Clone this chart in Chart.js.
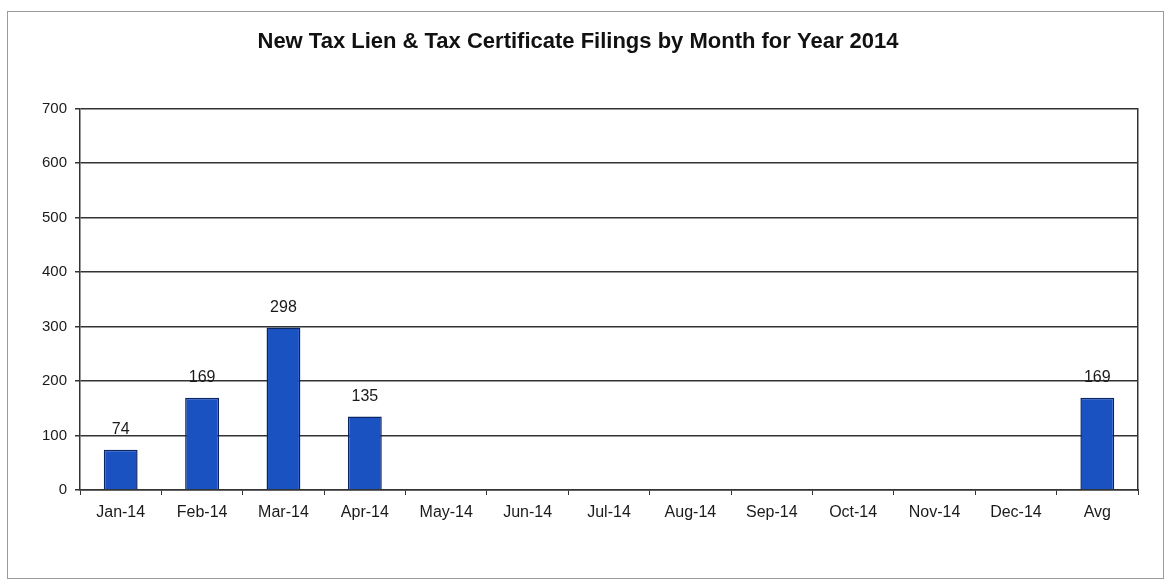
<!DOCTYPE html>
<html>
<head>
<meta charset="utf-8">
<script src="https://cdn.jsdelivr.net/npm/chart.js@4"></script>
<style>
  html, body { margin: 0; padding: 0; background: #fff; }
  #frame {
    position: absolute; left: 7px; top: 11px;
    width: 1155px; height: 566px;
    border: 1px solid #9a9a9a;
  }
  canvas { display: block; }
</style>
</head>
<body>
<div id="frame"><canvas id="chart" width="1155" height="566"></canvas></div>
<script>
// categories / values
const months = ['Jan-14', 'Feb-14', 'Mar-14', 'Apr-14', 'May-14', 'Jun-14', 'Jul-14',
                'Aug-14', 'Sep-14', 'Oct-14', 'Nov-14', 'Dec-14', 'Avg'];
const filings = [74, 169, 298, 135, null, null, null, null, null, null, null, null, 169];
const yTicks = [0, 100, 200, 300, 400, 500, 600, 700];

const FONT = '"Liberation Sans", Arial, sans-serif';

// value labels above each bar
const barLabels = {
  id: 'barLabels',
  afterDatasetsDraw(chart) {
    const ctx = chart.ctx;
    const meta = chart.getDatasetMeta(0);
    ctx.save();
    ctx.font = '16px ' + FONT;
    ctx.fillStyle = '#1a1a1a';
    ctx.textAlign = 'center';
    ctx.textBaseline = 'bottom';
    meta.data.forEach((bar, i) => {
      const v = filings[i];
      if (v == null) return;
      ctx.fillText(String(v), bar.x, bar.y - 12);
    });
    ctx.restore();
  }
};

new Chart(document.getElementById('chart'), {
  type: 'bar',
  data: {
    labels: months,
    datasets: [{
      data: filings,
      backgroundColor: '#1a52c2',
      borderColor: '#0a2466',
      borderWidth: 1.5,
      categoryPercentage: 0.8,
      barPercentage: 0.52
    }]
  },
  options: {
    responsive: false,
    animation: false,
    layout: { padding: { left: 0, right: 15, top: 0, bottom: 0 } },
    plugins: {
      legend: { display: false },
      tooltip: { enabled: false },
      title: {
        display: true,
        text: 'New Tax Lien & Tax Certificate Filings by Month for Year 2014',
        color: '#111',
        font: { family: FONT, size: 22, weight: 'bold' },
        padding: { top: 17, bottom: 53 }
      }
    },
    scales: {
      x: {
        grid: { display: true, drawOnChartArea: false, drawTicks: true, tickLength: 5, color: '#333', lineWidth: 1 },
        border: { display: true, color: '#333', width: 1.5 },
        ticks: { color: '#1a1a1a', font: { family: FONT, size: 16 }, padding: 8, maxRotation: 0, autoSkip: false },
        afterFit(scale) { scale.height = 88; }
      },
      y: {
        min: 0, max: 700,
        afterBuildTicks(scale) { scale.ticks = yTicks.map(v => ({ value: v })); },
        grid: { color: '#333', lineWidth: 1.5, tickLength: 5 },
        border: { display: true, color: '#333', width: 1.5 },
        ticks: { color: '#1a1a1a', font: { family: FONT, size: 15 }, padding: 8 },
        afterFit(scale) { scale.width = 72; }
      },
      y2: {
        position: 'right',
        min: 0, max: 700,
        grid: { display: false, drawOnChartArea: false },
        border: { display: true, color: '#333', width: 1.5 },
        ticks: { display: false },
        afterFit(scale) { scale.width = 10; }
      }
    }
  },
  plugins: [barLabels]
});
</script>
</body>
</html>
